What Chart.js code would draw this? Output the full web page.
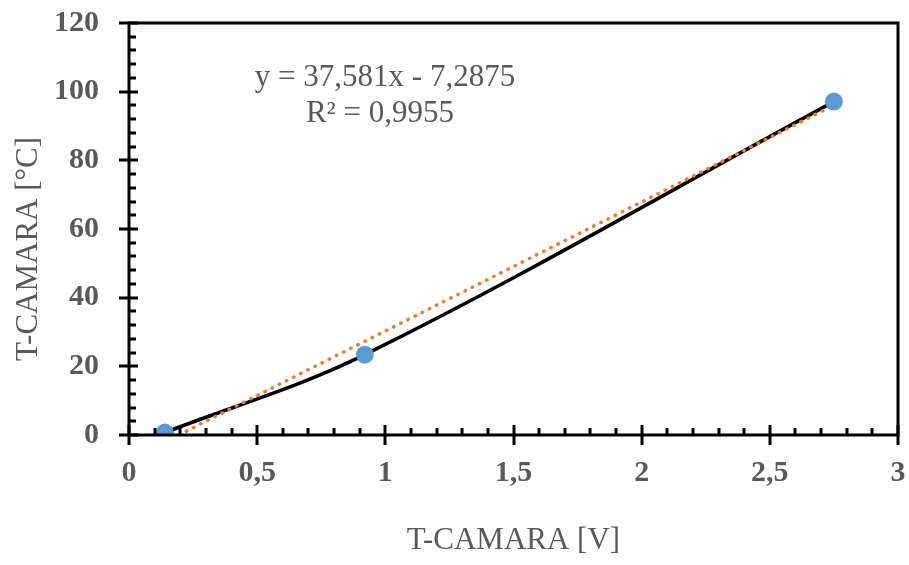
<!DOCTYPE html>
<html>
<head>
<meta charset="utf-8">
<script src="https://cdn.jsdelivr.net/npm/chart.js@4.4.1/dist/chart.umd.min.js"></script>
<style>
  html, body { margin: 0; padding: 0; background: #ffffff; }
  #wrap { width: 909px; height: 565px; }
</style>
</head>
<body>
<div id="wrap"><canvas id="camaraChart"></canvas></div>
<script>
// Measured points (voltage vs temperature)
const voltage = [0.14, 0.92, 2.75];
const temperature = [0.7, 23.4, 97.1];

// Linear trendline shown in the chart
const slope = 37.581;
const intercept = -7.2875;
const equationText = "y = 37,581x - 7,2875";
const r2Text = "R² = 0,9955";

// Axis titles
const xTitle = "T-CAMARA [V]";
const yTitle = "T-CAMARA [°C]";

const textGrey = "#595959";
const serif = "'Liberation Serif', 'Times New Roman', serif";

// Points for each dataset
const measured = voltage.map((v, i) => ({ x: v, y: temperature[i] }));
const xMin = Math.min(...voltage);
const xMax = Math.max(...voltage);
const trend = [
  { x: xMin, y: slope * xMin + intercept },
  { x: xMax, y: slope * xMax + intercept },
];

// Frame, crossing major ticks, inside minor ticks, equation and y title
const excelFrame = {
  id: "excelFrame",
  afterDraw(chart) {
    const { ctx, chartArea: a, scales } = chart;
    const xs = scales.x;
    const ys = scales.y;
    ctx.save();
    ctx.strokeStyle = "#000000";
    ctx.lineWidth = 3;
    ctx.strokeRect(a.left, a.top, a.right - a.left, a.bottom - a.top);

    ctx.beginPath();
    // x ticks
    for (let i = 0; i <= 30; i++) {
      const px = Math.round(xs.getPixelForValue(i / 10));
      if (i % 5 === 0) {
        ctx.moveTo(px, a.bottom - 10);
        ctx.lineTo(px, a.bottom + 10);
      } else {
        ctx.moveTo(px, a.bottom - 7);
        ctx.lineTo(px, a.bottom);
      }
    }
    // y ticks
    for (let v = 0; v <= 120; v += 4) {
      const py = Math.round(ys.getPixelForValue(v));
      if (v % 20 === 0) {
        ctx.moveTo(a.left - 10, py);
        ctx.lineTo(a.left + 9, py);
      } else {
        ctx.moveTo(a.left, py);
        ctx.lineTo(a.left + 7, py);
      }
    }
    ctx.stroke();

    // trendline label
    ctx.fillStyle = textGrey;
    ctx.font = "31px " + serif;
    ctx.textAlign = "center";
    ctx.textBaseline = "middle";
    ctx.fillText(equationText, 385, 78);
    ctx.fillText(r2Text, 380, 114);

    // y axis title
    ctx.translate(29, 249);
    ctx.rotate(-Math.PI / 2);
    ctx.fillText(yTitle, 0, 0);
    ctx.restore();
  },
};

const ctx = document.getElementById("camaraChart").getContext("2d");
new Chart(ctx, {
  type: "scatter",
  data: {
    datasets: [
      // measured points on top
      {
        label: "Puntos",
        data: measured,
        showLine: false,
        pointRadius: 9,
        pointHoverRadius: 9,
        pointBackgroundColor: "#5B9BD5",
        pointBorderWidth: 0,
        order: 0,
      },
      // linear trendline (dotted orange)
      {
        label: "Lineal",
        data: trend,
        showLine: true,
        borderColor: "#ED7D31",
        borderWidth: 3.5,
        borderDash: [0.5, 7.5],
        borderCapStyle: "round",
        pointRadius: 0,
        order: 1,
      },
      // smoothed black line
      {
        label: "Curva",
        data: measured,
        showLine: true,
        borderColor: "#000000",
        borderWidth: 3.5,
        tension: 0.35,
        pointRadius: 0,
        order: 2,
      },
    ],
  },
  options: {
    responsive: true,
    maintainAspectRatio: false,
    animation: false,
    layout: { padding: { top: 23, right: 11, left: 0, bottom: 0 } },
    plugins: {
      legend: { display: false },
      tooltip: { enabled: false },
    },
    scales: {
      x: {
        type: "linear",
        min: 0,
        max: 3,
        grid: { display: false, drawTicks: false },
        border: { display: false },
        ticks: {
          stepSize: 0.5,
          padding: 20,
          color: textGrey,
          font: { family: serif, size: 30, weight: "bold" },
          callback: (v) => String(v).replace(".", ","),
        },
        title: {
          display: true,
          text: xTitle,
          color: textGrey,
          font: { family: serif, size: 31 },
          padding: { top: 0, bottom: 6 },
        },
        afterFit(scale) {
          scale.height = 130;
          scale.paddingLeft = 0;
          scale.paddingRight = 0;
        },
      },
      y: {
        min: 0,
        max: 120,
        grid: { display: false, drawTicks: false },
        border: { display: false },
        ticks: {
          stepSize: 20,
          padding: 30,
          color: textGrey,
          font: { family: serif, size: 30, weight: "bold" },
        },
        afterFit(scale) {
          scale.width = 129;
          scale.paddingTop = 0;
          scale.paddingBottom = 0;
        },
      },
    },
  },
  plugins: [excelFrame],
});
</script>
</body>
</html>
